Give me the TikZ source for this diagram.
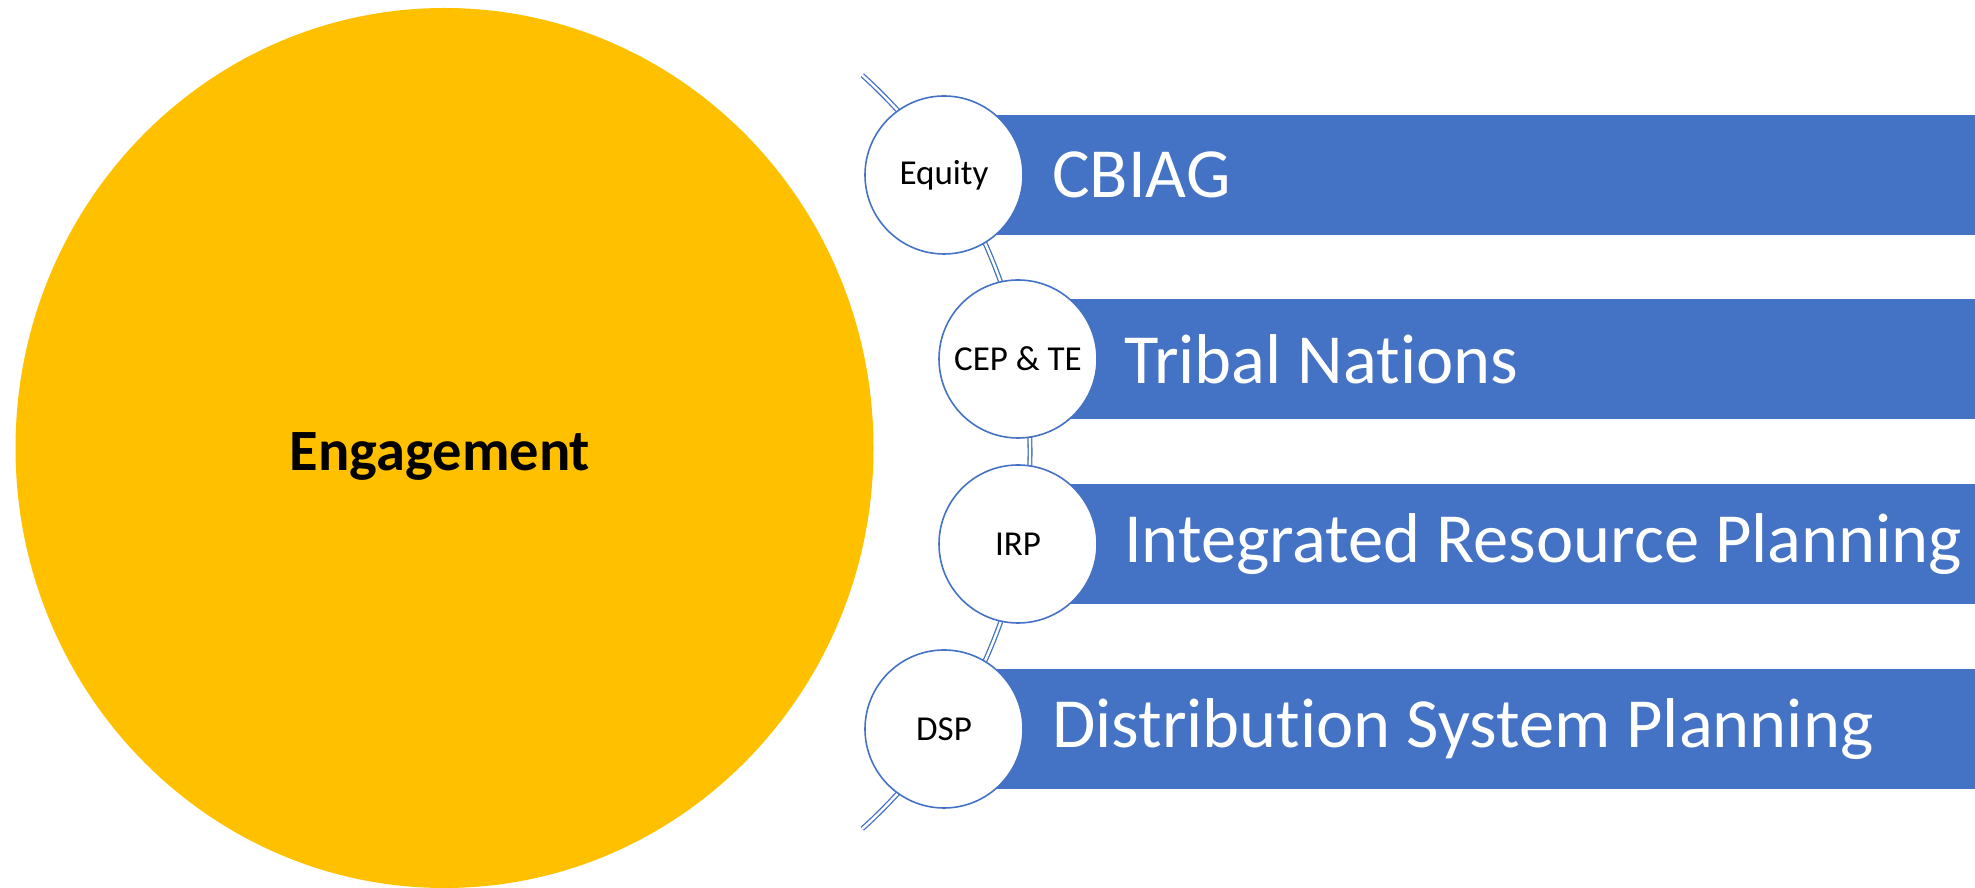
\documentclass[tikz,border=0pt]{standalone}
\usepackage{fontspec}
\setmainfont[RawFeature=-liga]{Carlito}
\definecolor{gold}{HTML}{FFC000}
\definecolor{barblue}{HTML}{4472C4}
\begin{document}
\begin{tikzpicture}[x=1pt,y=1pt,
  bigcirc/.style={fill=gold, draw=none},
  smallcirc/.style={circle, draw=barblue, line width=1.6pt, fill=white, minimum size=158pt, inner sep=0pt, font=\fontsize{35}{40}\selectfont},
  barbox/.style={fill=barblue, draw=none, anchor=west, minimum height=120pt, inner sep=0pt},
  bartext/.style={anchor=west, text=white, inner sep=0pt, font=\fontsize{70.5}{80}\selectfont},
  linkline/.style={draw=barblue, line width=1.3pt, double=white, double distance=2.4pt}
]
\useasboundingbox (0,0) rectangle (1975,888);
% big ellipse
\fill[bigcirc] (444.5,440) ellipse [x radius=429, y radius=440];
\node[font=\bfseries\fontsize{58.5}{66}\selectfont] (eng) at (440,432) {Engagement};
% arc
\coordinate (arcstart) at ([shift={(523,436)}]48:507);
\draw[linkline] (arcstart) arc [start angle=48, end angle=-48, radius=507] coordinate (arcend);
% bars
\node[barbox, minimum width=1031pt] (b1) at (944,713) {};
\node[barbox, minimum width=957pt] (b2) at (1018,529) {};
\node[barbox, minimum width=957pt] (b3) at (1018,344) {};
\node[barbox, minimum width=1031pt] (b4) at (944,159) {};
\node[bartext] (t1) at (1052,713) {CBIAG};
\node[bartext] (t2) at (1124,529) {Tribal Nations};
\node[bartext] (t3) at (1124,344) {Integrated Resource Planning};
\node[bartext] (t4) at (1052,159) {Distribution System Planning};
% circles
\node[smallcirc] (c1) at (944,713) {Equity};
\node[smallcirc] (c2) at (1018,529) {CEP \& TE};
\node[smallcirc] (c3) at (1018,344) {IRP};
\node[smallcirc] (c4) at (944,159) {DSP};
\end{tikzpicture}
\end{document}
